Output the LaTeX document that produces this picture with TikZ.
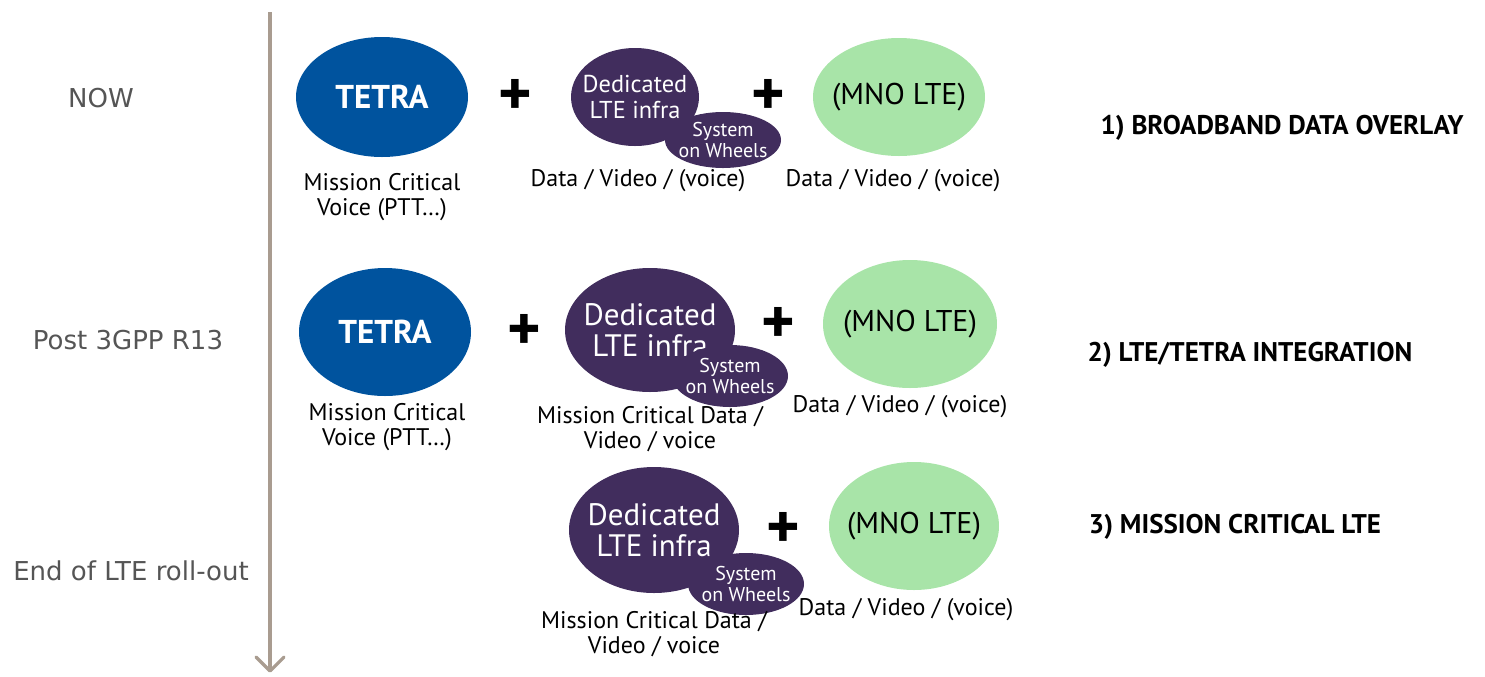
\documentclass[tikz,border=0pt]{standalone}
\usepackage{fontspec}
\setmainfont{PT Sans}
\newfontfamily\dejavu{DejaVu Sans}
\usetikzlibrary{shapes.geometric}
\definecolor{tetrablue}{HTML}{00539E}
\definecolor{ltepurple}{HTML}{412D5D}
\definecolor{mnogreen}{HTML}{A8E4A8}
\definecolor{arrowgray}{HTML}{A99C90}
\definecolor{labgray}{HTML}{555555}
\tikzset{
  blob/.style={ellipse, inner sep=0pt},
  tetranode/.style={blob, fill=tetrablue},
  dednode/.style={blob, fill=ltepurple},
  mnonode/.style={blob, fill=mnogreen},
  tetratext/.style={align=center, inner sep=0pt, text=white, font=\bfseries\fontsize{16.5}{18}\selectfont},
  dedtext/.style={align=center, inner sep=0pt, text=white},
  sowtext/.style={align=center, inner sep=0pt, text=white, font=\fontsize{10}{10.5}\selectfont},
  mnotext/.style={align=center, inner sep=0pt, text=black, font=\fontsize{15}{16}\selectfont},
  caption/.style={align=center, text=black, font=\fontsize{12}{12.5}\selectfont},
  plussign/.style={font=\bfseries\fontsize{32}{32}\selectfont, text=black, inner sep=0pt},
  phase/.style={text=labgray, font=\dejavu\fontsize{13}{14}\selectfont},
  stage/.style={text=black, font=\bfseries\fontsize{13.5}{15}\selectfont},
}
\begin{document}
\begin{tikzpicture}[x=0.5pt,y=-0.5pt]
\useasboundingbox (0,0) rectangle (1485,676);
% time axis
\coordinate (axtop) at (270,12);
\coordinate (axbot) at (270,671);
\draw[arrowgray, line width=1.6pt] (axtop) -- (axbot);
\draw[arrowgray, line width=1.6pt, line cap=round, line join=round] (256,657) -- (axbot) -- (284,657);
% phase labels
\node[phase] (now) at (101,98) {NOW};
\node[phase] (post) at (128,340) {Post 3GPP R13};
\node[phase] (endlte) at (131,571) {End of LTE roll-out};
% ---------- Row 1
\node[tetranode, minimum width=86pt, minimum height=60pt] (t1) at (382,97) {};
\node[tetratext] (t1t) at (t1.center) {TETRA};
\node[caption] (t1c) at (382,197) {Mission Critical\\Voice (PTT\ldots)};
\node[plussign] (p1a) at (515,97) {+};
\node[dednode, minimum width=64pt, minimum height=49pt] (d1) at (635,97) {};
\node[dedtext, font=\fontsize{12.2}{13}\selectfont] (d1t) at (d1.center) {Dedicated\\LTE infra};
\node[dednode, minimum width=58pt, minimum height=28pt] (s1) at (723,140) {};
\node[sowtext] (s1t) at (s1.center) {System\\on Wheels};
\node[caption] (d1c) at (638,181) {Data / Video / (voice)};
\node[plussign] (p1b) at (768,97) {+};
\node[mnonode, minimum width=86pt, minimum height=59pt] (m1) at (899,97) {};
\node[mnotext] (m1t) at (m1.center) {(MNO LTE)};
\node[caption] (m1c) at (893,181) {Data / Video / (voice)};
\node[stage] (st1) at (1282,128) {1) BROADBAND DATA OVERLAY};
% ---------- Row 2
\node[tetranode, minimum width=86pt, minimum height=64pt] (t2) at (385,332) {};
\node[tetratext] (t2t) at (t2.center) {TETRA};
\node[caption] (t2c) at (387,427) {Mission Critical\\Voice (PTT\ldots)};
\node[plussign] (p2a) at (524,332) {+};
\node[dednode, minimum width=85pt, minimum height=62pt] (d2) at (650,330) {};
\node[dedtext, font=\fontsize{15.5}{15.5}\selectfont] (d2t) at (d2.center) {Dedicated\\LTE infra};
\node[dednode, minimum width=58pt, minimum height=31pt] (s2) at (730,376) {};
\node[sowtext] (s2t) at (s2.center) {System\\on Wheels};
\node[caption] (d2c) at (650,429) {Mission Critical Data /\\Video / voice};
\node[plussign] (p2b) at (778,325) {+};
\node[mnonode, minimum width=87pt, minimum height=64pt] (m2) at (910,324) {};
\node[mnotext] (m2t) at (m2.center) {(MNO LTE)};
\node[caption] (m2c) at (900,407) {Data / Video / (voice)};
\node[stage] (st2) at (1250,355) {2) LTE/TETRA INTEGRATION};
% ---------- Row 3
\node[dednode, minimum width=85pt, minimum height=63pt] (d3) at (654,530) {};
\node[dedtext, font=\fontsize{15.5}{15.5}\selectfont] (d3t) at (d3.center) {Dedicated\\LTE infra};
\node[dednode, minimum width=58pt, minimum height=31pt] (s3) at (746,584) {};
\node[sowtext] (s3t) at (s3.center) {System\\on Wheels};
\node[caption] (d3c) at (654,634) {Mission Critical Data /\\Video / voice};
\node[plussign] (p3) at (783,530) {+};
\node[mnonode, minimum width=85pt, minimum height=64pt] (m3) at (914,526) {};
\node[mnotext] (m3t) at (m3.center) {(MNO LTE)};
\node[caption] (m3c) at (906,610) {Data / Video / (voice)};
\node[stage] (st3) at (1235,527) {3) MISSION CRITICAL LTE};
\end{tikzpicture}
\end{document}
